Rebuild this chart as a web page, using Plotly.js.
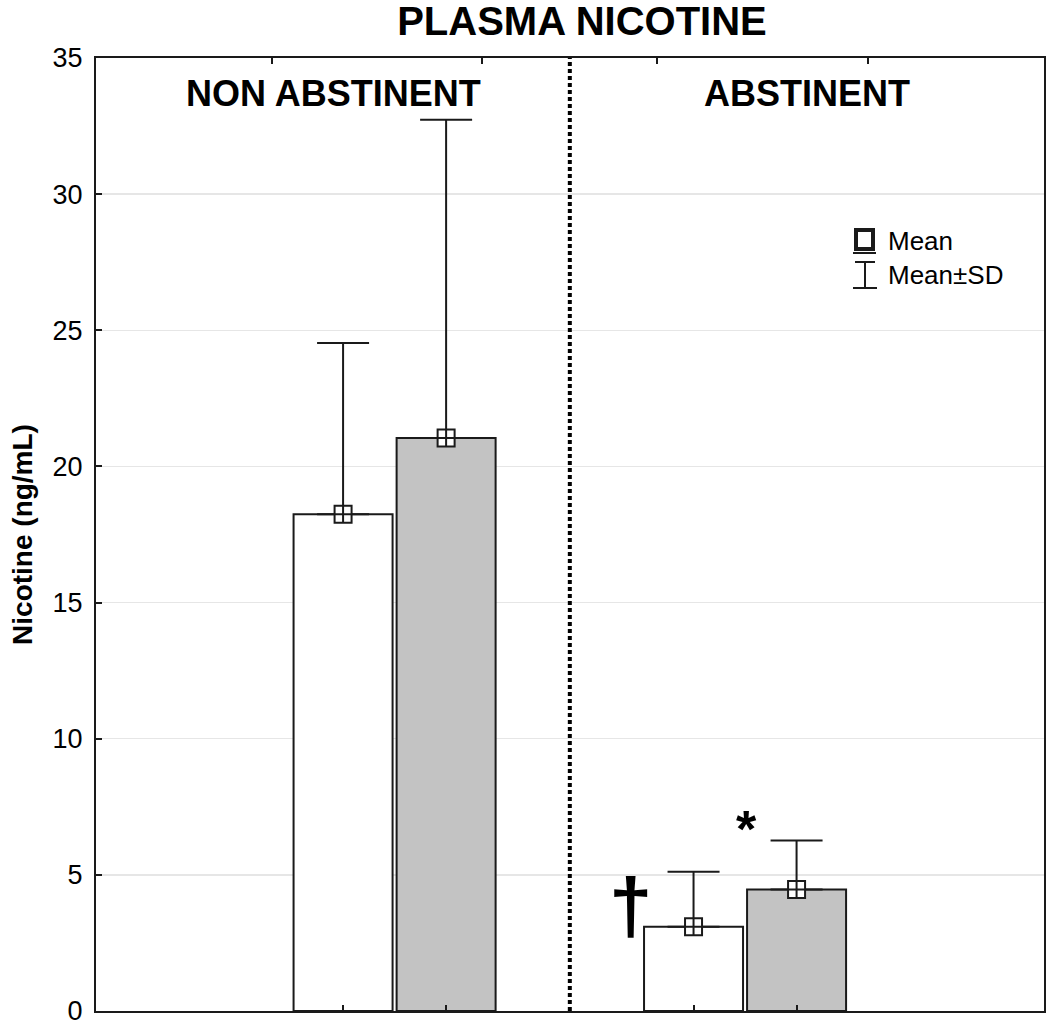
<!DOCTYPE html>
<html>
<head>
<meta charset="utf-8">
<script src="https://cdn.plot.ly/plotly-3.0.1.min.js"></script>
<style>html,body{margin:0;padding:0;background:#fff;}#chart{width:1050px;height:1026px;}</style>
</head>
<body>
<div id="chart"></div>
<script>
// ---- data ----
const groups = ["NON ABSTINENT", "ABSTINENT"];
const whiteMean = [18.24, 3.09];
const whiteSD = [6.29, 2.02];
const greyMean = [21.04, 4.46];
const greySD = [11.69, 1.80];
const yTicks = [0, 5, 10, 15, 20, 25, 30, 35];
const legendLabels = ["Mean", "Mean\u00b1SD"];
const chartTitle = "PLASMA NICOTINE";
const yTitle = "Nicotine (ng/mL)";

// ---- layout constants ----
const W = 1050, H = 1026;
const M = {l: 96, r: 6, t: 58, b: 15};
const slot = 0.147, barW = 0.2825;
const FONT = "Liberation Sans, Arial, sans-serif";
const INK = "#1a1a1a";
const pw = W - M.l - M.r, ph = H - M.t - M.b;
const px = x => (x - M.l) / pw;
const py = y => (H - M.b - y) / ph;

const gx = groups.map((g, i) => i);
const xWhite = gx.map(i => i - slot);
const xGrey = gx.map(i => i + slot);

function barTrace(xs, ys, fill, name) {
  return {type: 'bar', x: xs, y: ys, width: barW, name: name, showlegend: false,
    marker: {color: fill, line: {color: INK, width: 2}}, hoverinfo: 'y'};
}
function meanTrace(xs, ys, sd, name) {
  return {type: 'scatter', mode: 'markers', x: xs, y: ys, name: name, showlegend: false,
    marker: {symbol: 'square-cross', size: 17, color: '#ffffff', line: {color: INK, width: 2}},
    error_y: {type: 'data', symmetric: false, array: sd, arrayminus: sd.map(() => 0),
      color: INK, thickness: 2, width: 26}};
}

const data = [
  barTrace(xWhite, whiteMean, '#ffffff', 'white'),
  barTrace(xGrey, greyMean, '#c3c3c3', 'grey'),
  meanTrace(xWhite, whiteMean, whiteSD, 'white mean'),
  meanTrace(xGrey, greyMean, greySD, 'grey mean'),
  {type: 'scatter', x: [0], y: [0], xaxis: 'x2', mode: 'markers', marker: {opacity: 0}, showlegend: false, hoverinfo: 'skip'}
];

const txt = (s, size, bold) => ({family: FONT, size: size, color: '#000', weight: bold ? 'bold' : 'normal'});

const layout = {
  width: W, height: H, margin: M,
  paper_bgcolor: '#fff', plot_bgcolor: '#fff',
  barmode: 'overlay', showlegend: false,
  font: {family: FONT, color: '#000'},
  title: {text: '<b>' + chartTitle + '</b>', font: txt('', 40, true), xref: 'container', yref: 'container',
    x: 582 / W, xanchor: 'center', y: 1 - 21 / H, yanchor: 'middle'},
  xaxis: {range: [-0.852, 1.853], tickvals: [...xWhite, ...xGrey], showticklabels: false,
    ticks: 'inside', ticklen: 6, tickwidth: 2, tickcolor: INK,
    showline: true, linewidth: 2, linecolor: INK, mirror: false, showgrid: false, zeroline: false, fixedrange: true},
  xaxis2: {overlaying: 'x', side: 'top', matches: 'x', tickvals: [-0.35, 0.25, 0.75, 1.35], showticklabels: false,
    ticks: 'inside', ticklen: 6, tickwidth: 2, tickcolor: INK,
    showline: true, linewidth: 2, linecolor: INK, showgrid: false, zeroline: false},
  yaxis: {range: [-0.0001, 35.0001], tickvals: yTicks, ticktext: yTicks.map(String), ticks: 'inside', ticklen: 6, tickwidth: 2, tickcolor: INK,
    tickfont: txt('', 27, false), ticklabelstandoff: 6, ticklabeloverflow: 'allow',
    showline: true, linewidth: 2, linecolor: INK, mirror: true,
    showgrid: true, gridcolor: '#e6e6e6', gridwidth: 1.5, zeroline: false,
    title: {text: '<b>' + yTitle + '</b>', font: txt('', 28, true), standoff: 12}},
  shapes: [
    {type: 'line', xref: 'x', yref: 'paper', x0: 0.5, x1: 0.5, y0: 0, y1: 1,
      line: {color: '#000', width: 4, dash: '4px,3px'}},
    // legend symbols
    {type: 'rect', xref: 'paper', yref: 'paper', x0: px(856), x1: px(873), y0: py(249), y1: py(230),
      line: {color: INK, width: 4}, fillcolor: '#fff'},
    {type: 'line', xref: 'paper', yref: 'paper', x0: px(853), x1: px(876), y0: py(253), y1: py(253),
      line: {color: INK, width: 2}},
    {type: 'line', xref: 'paper', yref: 'paper', x0: px(855), x1: px(875), y0: py(262), y1: py(262),
      line: {color: INK, width: 2}},
    {type: 'line', xref: 'paper', yref: 'paper', x0: px(865), x1: px(865), y0: py(262), y1: py(288),
      line: {color: INK, width: 2}},
    {type: 'line', xref: 'paper', yref: 'paper', x0: px(853), x1: px(877), y0: py(288), y1: py(288),
      line: {color: INK, width: 2}}
  ],
  annotations: [
    {text: '<b>' + groups[0] + '</b>', xref: 'paper', yref: 'paper', x: 0.25, y: py(93),
      xanchor: 'center', yanchor: 'middle', showarrow: false, font: txt('', 36, true)},
    {text: '<b>' + groups[1] + '</b>', xref: 'paper', yref: 'paper', x: 0.75, y: py(93),
      xanchor: 'center', yanchor: 'middle', showarrow: false, font: txt('', 36, true)},
    {text: legendLabels[0], xref: 'paper', yref: 'paper', x: px(886), y: py(241),
      xanchor: 'left', yanchor: 'middle', showarrow: false, font: txt('', 26, false)},
    {text: legendLabels[1], xref: 'paper', yref: 'paper', x: px(886), y: py(275),
      xanchor: 'left', yanchor: 'middle', showarrow: false, font: txt('', 26, false)},
    {text: '<b>\u2020</b>', xref: 'x', yref: 'paper', x: 1 - 0.328, y: py(906),
      xanchor: 'center', yanchor: 'middle', showarrow: false, font: txt('', 78, true)},
    {text: '<b>*</b>', xref: 'x', yref: 'paper', x: 1.003, y: py(829),
      xanchor: 'center', yanchor: 'middle', showarrow: false, font: txt('', 52, true)}
  ]
};

Plotly.newPlot('chart', data, layout, {staticPlot: true, displayModeBar: false});
</script>
</body>
</html>
